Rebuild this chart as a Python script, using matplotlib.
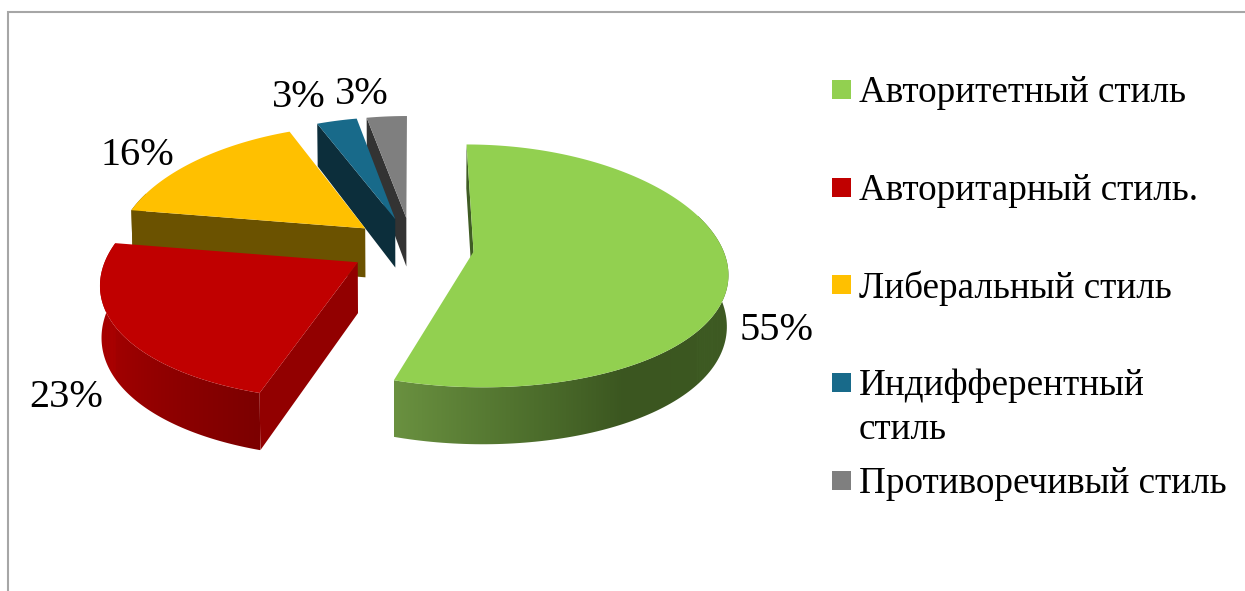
import numpy as np
from matplotlib import pyplot as plt
from matplotlib.colors import to_rgb
from matplotlib.patches import Polygon, Rectangle

plt.rcParams['font.family'] = ['Liberation Serif', 'DejaVu Serif']

categories = ['Авторитетный стиль', 'Авторитарный стиль.', 'Либеральный стиль',
              'Индифферентный\nстиль', 'Противоречивый стиль']
values = [55, 23, 16, 3, 3]

top_colors = ['#92d050', '#c00000', '#ffc000', '#186a8a', '#7f7f7f']
face_colors = ['#3f5c24', '#920000', '#6b5200', '#0c2e3b', '#333333']
# shade of the outer wall along the angle (degrees), for each slice
wall_angles = [[70, 150, 170, 198], [198, 240, 290], [281, 338], [338, 349], [349, 360]]
wall_shades = [['#3f5c24', '#3b5620', '#4d6e2c', '#6a9140'],
               ['#7c0000', '#a00000', '#b00000'],
               ['#6b5200', '#6b5200'], ['#0c2e3b', '#0c2e3b'], ['#333333', '#333333']]

label_pos = [(740, 340), (29, 407), (100, 165), (272, 107), (335, 104)]
legend_y = [80, 178, 275, 373, 471]
text_y = [102, 200, 298, 439, 493]  # baseline of the last line

CX, CY = 412, 247
RADIUS = 249
EXPLODE = 62
SQUASH = 0.478
PERSP_X = 1900.0
PERSP_Y = 2800.0
RIM_SHIFT = 7


def project(x, y):
    return CX + x / (1 + y / PERSP_X), CY - SQUASH * y / (1 + y / PERSP_Y)


def lower(px, py, y):
    # same point on the bottom of the pie
    depth = 50 * (1 - 0.13 * y / RADIUS)
    return CX + (px - CX) * 0.995, py + depth


fig = plt.figure(figsize=(12.45, 5.91), dpi=100)
ax = fig.add_axes([0, 0, 1, 1])

ax.plot([8, 8, 1245], [591, 12, 12], color='#a6a6a6', lw=1.5, solid_joinstyle='miter')

stops = np.cumsum([0] + values) / sum(values) * 360

# back slices first, so the nearer ones cover them
for i in reversed(range(len(values))):
    start, end = stops[i], stops[i + 1]
    mid = np.radians((start + end) / 2)
    ex, ey = EXPLODE * np.sin(mid), EXPLODE * np.cos(mid)
    theta = np.linspace(start, end, 181)
    x = ex + RADIUS * np.sin(np.radians(theta))
    y = ey + RADIUS * np.cos(np.radians(theta)) - RIM_SHIFT
    px, py = project(x, y)
    bx, by = lower(px, py, y)
    base = 3 * (4 - i)

    # outer wall, only the part that can be seen
    seen = (theta >= 70) & (theta <= 290)
    if seen.sum() > 1:
        order = np.argsort(px[seen])
        col_x = np.linspace(px[seen].min(), px[seen].max(), 400)
        col_t = np.interp(col_x, px[seen][order], theta[seen][order])
        ramp = np.array([to_rgb(c) for c in wall_shades[i]])
        grad = np.stack([np.interp(col_t, wall_angles[i], ramp[:, k]) for k in range(3)], axis=-1)[None, :, :]
        im = ax.imshow(grad, extent=[col_x[0], col_x[-1], 591, 0], aspect='auto', zorder=2 + base)
        outline = np.r_[np.column_stack([px[seen], py[seen]]), np.column_stack([bx[seen], by[seen]])[::-1]]
        clip = Polygon(outline, closed=True, transform=ax.transData)
        im.set_clip_path(clip)

    ax_, ay_ = project(ex, ey)
    abx, aby = lower(ax_, ay_, ey)
    ax.add_patch(Polygon([(px[0], py[0]), (ax_, ay_), (abx, aby), (bx[0], by[0])], closed=True,
                         facecolor=face_colors[i], edgecolor='none', zorder=3 + base))
    top = np.column_stack([np.r_[ax_, px], np.r_[ay_, py]])
    ax.add_patch(Polygon(top, closed=True, facecolor=top_colors[i], edgecolor='none', zorder=4 + base))

    ax.text(label_pos[i][0], label_pos[i][1], f'{values[i]}%', fontsize=29, color='black',
            ha='left', va='baseline', zorder=30)

for i, name in enumerate(categories):
    ax.add_patch(Rectangle((832, legend_y[i]), 19, 19, facecolor=top_colors[i], edgecolor='none'))
    ax.text(859, text_y[i], name, fontsize=26.7, color='black', ha='left', va='baseline',
            linespacing=1.37)

ax.set_xlim(0, 1245)
ax.set_ylim(591, 0)
ax.axis('off')

fig.savefig('out.png', dpi=100)
